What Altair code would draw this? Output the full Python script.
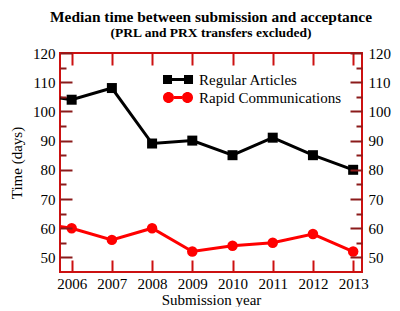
import altair as alt
import pandas as pd

# ---- data ----
years = [2005, 2006, 2007, 2008, 2009, 2010, 2011, 2012, 2013]
regular = [106, 104, 108, 89, 90, 85, 91, 85, 80]
rapid = [62, 60, 56, 60, 52, 54, 55, 58, 52]
series_names = ["Regular Articles", "Rapid Communications"]
series_colors = ["#000000", "#ff0000"]
year_ticks = [2006, 2007, 2008, 2009, 2010, 2011, 2012, 2013]
y_major = [50, 60, 70, 80, 90, 100, 110, 120]
y_minor = [55, 65, 75, 85, 95, 105, 115]

rows = []
for yr, a, b in zip(years, regular, rapid):
    rows.append({"year": yr, "value": a, "series": series_names[0]})
    rows.append({"year": yr, "value": b, "series": series_names[1]})
df = pd.DataFrame(rows)

# ---- styles ----
W, H = 302, 219
FONT = "Liberation Serif"
FRAME = "#cc1111"
YTICK = "#8b1a1a"

xscale = alt.Scale(domain=[2005.71, 2013.22], nice=False, zero=False)
yscale = alt.Scale(domain=[45, 120], nice=False, zero=False)
color_scale = alt.Scale(domain=series_names, range=series_colors)

sq_path = ("M-1,-0.47H-0.05V0.47H-1Z "
           "M1.21,-0.47H2.16V0.47H1.21Z "
           "M-0.05,-0.16H1.21V0.16H-0.05Z")
circ_path = ("M-1,0A0.58,0.58,0,1,0,0.16,0A0.58,0.58,0,1,0,-1,0Z "
             "M1,0A0.58,0.58,0,1,0,2.16,0A0.58,0.58,0,1,0,1,0Z "
             "M0.16,-0.16H1V0.16H0.16Z")
shape_scale = alt.Scale(domain=series_names, range=[sq_path, circ_path])

common = dict(domain=False, grid=False)

x_labels = alt.Axis(orient="bottom", values=year_ticks, format="d", ticks=False,
                    labelPadding=4, title="Submission year", titlePadding=1, **common)
x_ticks_bottom = alt.Axis(orient="top", offset=-H, values=year_ticks, labels=False,
                          tickSize=12, tickWidth=2, tickColor=FRAME, title=None,
                          zindex=1, **common)
x_ticks_top = alt.Axis(orient="bottom", offset=-H, values=year_ticks, labels=False,
                       tickSize=12, tickWidth=2, tickColor=FRAME, title=None,
                       zindex=1, **common)

y_labels_left = alt.Axis(orient="left", values=y_major, ticks=False, labelPadding=5,
                         title="Time (days)", titlePadding=8, **common)
y_labels_right = alt.Axis(orient="right", values=y_major, ticks=False, labelPadding=6,
                          title=None, **common)
y_left_major = alt.Axis(orient="right", offset=-W, values=y_major, labels=False,
                        tickSize=12, tickWidth=2, tickColor=YTICK, title=None,
                        zindex=1, **common)
y_left_minor = alt.Axis(orient="right", offset=-W, values=y_minor, labels=False,
                        tickSize=6, tickWidth=2, tickColor=YTICK, title=None,
                        zindex=1, **common)
y_right_major = alt.Axis(orient="left", offset=-W, values=y_major, labels=False,
                         tickSize=12, tickWidth=2, tickColor=YTICK, title=None,
                         zindex=1, **common)
y_right_minor = alt.Axis(orient="left", offset=-W, values=y_minor, labels=False,
                         tickSize=6, tickWidth=2, tickColor=YTICK, title=None,
                         zindex=1, **common)


def X(axis):
    return alt.X("year:Q", scale=xscale, axis=axis)


def Y(axis):
    return alt.Y("value:Q", scale=yscale, axis=axis)


base = alt.Chart(df)
reg = base.transform_filter(alt.datum.series == series_names[0])
rap = base.transform_filter(alt.datum.series == series_names[1])

line_reg = reg.mark_line(strokeWidth=3, clip=True, color=series_colors[0]).encode(
    x=X(x_labels), y=Y(y_labels_left)
)
line_rap = rap.mark_line(strokeWidth=3, clip=True, color=series_colors[1]).encode(
    x=X(None), y=Y(y_labels_right)
)
squares = reg.mark_square(size=100, opacity=1, clip=True, color=series_colors[0]).encode(
    x=X(x_ticks_bottom), y=Y(y_left_major)
)
circles = rap.mark_circle(size=110, opacity=1, clip=True, color=series_colors[1]).encode(
    x=X(x_ticks_top), y=Y(y_left_minor)
)

leg = alt.Legend(orient="none", legendX=103, legendY=17, title=None,
                 symbolSize=361, symbolOpacity=1, symbolStrokeWidth=0,
                 labelFont=FONT, labelFontSize=15, labelColor="black",
                 labelOffset=17, rowPadding=0, padding=0, labelLimit=300)

# legend-only layer: no marks drawn, entries come from the scale domain
legend_layer = base.transform_filter("false").mark_point(
    filled=True, opacity=1
).encode(
    x=X(None), y=Y(y_right_major),
    color=alt.Color("series:N", scale=color_scale, legend=leg),
    shape=alt.Shape("series:N", scale=shape_scale, legend=leg),
)

extra = base.mark_point(opacity=0, clip=True).encode(x=X(None), y=Y(y_right_minor))

chart = alt.layer(line_reg, line_rap, squares, circles, legend_layer, extra).resolve_axis(
    x="independent", y="independent"
).properties(
    width=W, height=H,
    autosize=alt.AutoSizeParams(type="none"),
    padding={"left": 52, "top": 45, "right": 30, "bottom": 35},
    title=alt.TitleParams(
        text="Median time between submission and acceptance",
        subtitle="(PRL and PRX transfers excluded)",
        font=FONT, fontSize=15.4, fontWeight="bold", color="black",
        subtitleFont=FONT, subtitleFontSize=13.5, subtitleFontWeight="bold",
        subtitleColor="black", subtitlePadding=0,
        anchor="middle", offset=7,
    ),
).configure_view(
    stroke=FRAME, strokeWidth=2
).configure_axis(
    labelFont=FONT, labelFontSize=15, labelColor="black",
    titleFont=FONT, titleFontSize=15, titleFontWeight="normal", titleColor="black",
)

chart.save("out.html", embed_options={"renderer": "svg", "actions": False})
